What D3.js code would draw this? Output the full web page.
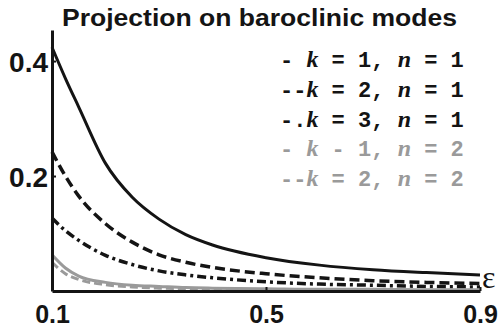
<!DOCTYPE html>
<html><head><meta charset="utf-8">
<script src="https://cdn.jsdelivr.net/npm/d3@7"></script>
<style>body{margin:0;background:#fff}svg{display:block}</style>
</head><body>
<script>
const title = "Projection on baroclinic modes";
const eps = [0.1,0.125,0.15,0.2,0.25,0.3,0.35,0.4,0.5,0.6,0.7,0.8,0.9];
const k1n1 = [0.424,0.37,0.32,0.222,0.163,0.125,0.098,0.08,0.058,0.045,0.037,0.032,0.028];
const k2n1 = [0.242,0.2,0.165,0.117,0.085,0.063,0.05,0.041,0.03,0.023,0.018,0.015,0.013];
const k3n1 = [0.127,0.105,0.088,0.062,0.046,0.035,0.028,0.023,0.016,0.012,0.010,0.008,0.007];
const k1n2 = [0.063,0.04,0.026,0.015,0.01,0.008,0.006,0.005,0.004,0.003,0.003,0.002,0.002];
const k2n2 = [0.05,0.03,0.02,0.011,0.007,0.005,0.004,0.003,0.002,0.002,0.001,0.001,0.001];
const legendLabels = ["- k = 1, n = 1","--k = 2, n = 1","-.k = 3, n = 1","- k - 1, n = 2","--k = 2, n = 2"];
const xTicks = [0.1,0.5,0.9];
const yTicks = [0.2,0.4];
const xLabel = "ε";

const series = [
  {vals:k1n1, color:"#141414", dash:null, w:3},
  {vals:k2n1, color:"#141414", dash:"10,5", w:3.5},
  {vals:k3n1, color:"#141414", dash:"9,4,3,4", w:3.5},
  {vals:k1n2, color:"#9a9a9a", dash:null, w:3},
  {vals:k2n2, color:"#9a9a9a", dash:"8,4", w:3}
];

const W=503,H=329;
const svg=d3.select("body").append("svg").attr("width",W).attr("height",H);
const x=d3.scaleLinear().domain([0.1,0.9]).range([52,480]);
const y=d3.scaleLinear().domain([0,0.454]).range([291,30]);

const line=d3.line().x(d=>x(d[0])).y(d=>y(d[1])).curve(d3.curveMonotoneX);
series.forEach(s=>{
  svg.append("path").datum(eps.map((e,i)=>[e,s.vals[i]]))
    .attr("d",line).attr("fill","none").attr("stroke",s.color)
    .attr("stroke-width",s.w).attr("stroke-dasharray",s.dash);
});

const ax=svg.append("g").attr("transform",`translate(0,${y(0)})`)
  .call(d3.axisBottom(x).tickValues(xTicks).tickSizeInner(-4).tickSizeOuter(0).tickFormat(d3.format(".1f")));
ax.select(".domain").attr("stroke","#141414").attr("stroke-width",3);
ax.selectAll(".tick line").attr("stroke","#141414").attr("stroke-width",2);
ax.selectAll(".tick text").attr("y",32).attr("dy",0)
  .style("font-family","'Liberation Sans',Arial,sans-serif").style("font-weight","bold")
  .style("font-size","25px").attr("fill","#141414");

const ay=svg.append("g").attr("transform",`translate(${x(0.1)},0)`)
  .call(d3.axisLeft(y).tickValues(yTicks).tickSizeInner(-4).tickSizeOuter(0).tickFormat(d3.format(".1f")));
ay.select(".domain").attr("stroke","#141414").attr("stroke-width",3);
ay.selectAll(".tick line").attr("stroke","#141414").attr("stroke-width",2);
ay.selectAll(".tick text").attr("x",-4).attr("dy","0.36em")
  .style("font-family","'Liberation Sans',Arial,sans-serif").style("font-weight","bold")
  .style("font-size","28px").attr("fill","#141414");

svg.append("text").attr("x",482).attr("y",288).text(xLabel)
  .style("font-family","'Liberation Serif','Times New Roman',serif")
  .style("font-size","32px").attr("fill","#141414");

svg.append("text").attr("x",62).attr("y",26).text(title)
  .attr("textLength",395).attr("lengthAdjust","spacingAndGlyphs")
  .style("font-family","'Liberation Sans',Arial,sans-serif").style("font-weight","bold")
  .style("font-size","23px").attr("fill","#141414");

legendLabels.forEach((lab,i)=>{
  const t=svg.append("text").attr("x",280).attr("y",67+i*29.75)
    .style("font-family","'Liberation Mono','Courier New',monospace").style("font-weight","bold")
    .style("font-size","22px").attr("fill",series[i].color).attr("xml:space","preserve")
    .style("white-space","pre");
  lab.split(/([kn])/).forEach(part=>{
    if(!part) return;
    const ts=t.append("tspan").text(part);
    if(part==="k"||part==="n") ts.style("font-style","italic").style("font-family","'Liberation Serif',serif").style("font-size","24px");
  });
});
</script>
</body></html>
